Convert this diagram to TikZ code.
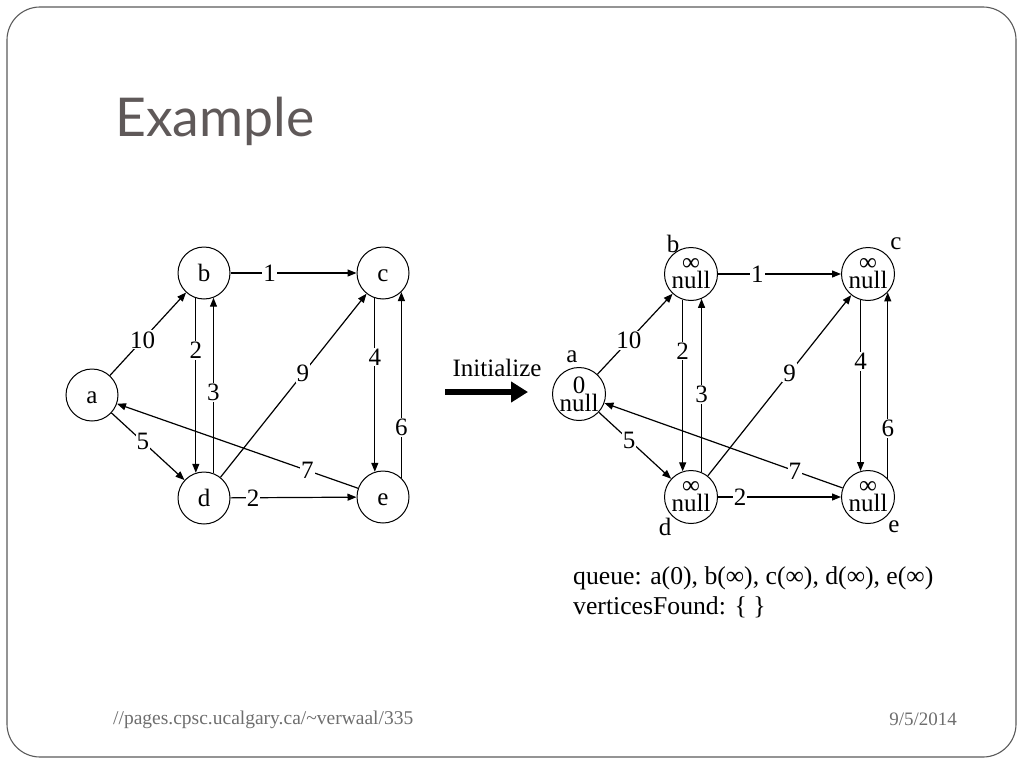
\documentclass[tikz,border=0pt]{standalone}
\usepackage{fontspec}
\setmainfont{Liberation Serif}
\newfontfamily\titlefont{Lato}
\usetikzlibrary{arrows.meta}
\definecolor{titlegray}{HTML}{5F5959}
\definecolor{framegray}{HTML}{5A5A5A}
\definecolor{footgray}{HTML}{6E6E6E}
\begin{document}
\begin{tikzpicture}[x=1pt,y=-1pt,
  vtx/.style={circle,draw,line width=1pt,minimum size=52pt,inner sep=0pt,text height=16pt,text depth=0pt,font=\fontsize{25}{25}\selectfont},
  vtxb/.style={circle,draw,line width=1pt,minimum size=53pt,inner sep=0pt,align=center,font=\fontsize{25}{18}\selectfont},
  edge/.style={line width=1.2pt,-{Triangle[length=9pt,width=7pt]}},
  lbl/.style={fill=white,inner sep=1pt,font=\fontsize{25}{25}\selectfont},
  txt/.style={inner sep=0pt,font=\fontsize{25}{25}\selectfont},
  qtxt/.style={inner sep=0pt,font=\fontsize{25.7}{25.7}\selectfont}]
\useasboundingbox (0,0) rectangle (1024,768);
% frame
\draw[framegray,line width=1.1pt,rounded corners=33pt] (7,7) rectangle (1016,757);
% title
\node[anchor=base west,inner sep=0pt,text=titlegray,font=\titlefont\fontsize{53.5}{53.5}\selectfont] (title) at (115,136) {Example};
% footer
\node[anchor=base west,inner sep=0pt,text=footgray,font=\fontsize{19.5}{19.5}\selectfont] (url) at (113,724) {//pages.cpsc.ucalgary.ca/\textasciitilde verwaal/335};
\node[anchor=base east,inner sep=0pt,text=footgray,font=\fontsize{19}{19}\selectfont] (date) at (957,725) {9/5/2014};

% left graph
\node[vtx] (a) at (92,395) {a};
\node[vtx] (b) at (204,273) {b};
\node[vtx] (c) at (383,273) {c};
\node[vtx] (d) at (204,498) {d};
\node[vtx] (e) at (383,497) {e};
\draw[edge] (b) -- node[lbl,pos=0.31] (l1) {1} (c);
\draw[edge] (a) -- node[lbl,pos=0.43] (l2) {10} (b);
\draw[edge] (a) -- node[lbl,pos=0.43] (l3) {5} (d);
\draw[edge] (b.252) -- node[lbl,pos=0.30] (l4) {2} (d.108);
\draw[edge] (d.69) -- node[lbl,pos=0.46] (l5) {3} (b.291);
\draw[edge] (d) -- node[lbl,pos=0.565] (l6) {9} (c);
\draw[edge] (c.252) -- node[lbl,pos=0.34] (l7) {4} (e.108);
\draw[edge] (e.46) -- node[lbl,pos=0.27] (l8) {6} (c.314);
\draw[edge] (e) -- node[lbl,pos=0.21] (l9) {7} (a);
\draw[edge] (d) -- node[lbl,pos=0.18] (l10) {2} (e);

% initialize arrow
\node[txt] (init) at (497,368) {Initialize};
\coordinate (ia) at (445,392);
\coordinate (ib) at (528,392);
\draw[line width=6pt,-{Triangle[length=17pt,width=20pt]}] (ia) -- (ib);

% right graph
\node[vtxb] (ra) at (579,394) {0\\null};
\node[vtxb] (rb) at (691,274) {∞\\null};
\node[vtxb] (rc) at (868,274) {∞\\null};
\node[vtxb] (rd) at (691,497) {∞\\null};
\node[vtxb] (re) at (868,497) {∞\\null};
\node[txt] (na) at (572,357) {a};
\node[txt] (nb) at (673,244) {b};
\node[txt] (nc) at (896,244) {c};
\node[txt] (nd) at (665,527) {d};
\node[txt] (ne) at (894,527) {e};
\draw[edge] (rb) -- node[lbl,pos=0.32] (r1) {1} (rc);
\draw[edge] (ra) -- node[lbl,pos=0.42] (r2) {10} (rb);
\draw[edge] (ra) -- node[lbl,pos=0.42] (r3) {5} (rd);
\draw[edge] (rb.252) -- node[lbl,pos=0.30] (r4) {2} (rd.108);
\draw[edge] (rd.67) -- node[lbl,pos=0.45] (r5) {3} (rb.293);
\draw[edge] (rd) -- node[lbl,pos=0.57] (r6) {9} (rc);
\draw[edge] (rc.254) -- node[lbl,pos=0.36] (r7) {4} (re.106);
\draw[edge] (re.43) -- node[lbl,pos=0.27] (r8) {6} (rc.317);
\draw[edge] (re) -- node[lbl,pos=0.20] (r9) {7} (ra);
\draw[edge] (rd) -- node[lbl,pos=0.18] (r10) {2} (re);

% queue text
\node[qtxt,anchor=west] (q1) at (573,578) {queue: a(0), b(∞), c(∞), d(∞), e(∞)};
\node[qtxt,anchor=west] (q2) at (573,607) {verticesFound: \{ \}};
\end{tikzpicture}
\end{document}
